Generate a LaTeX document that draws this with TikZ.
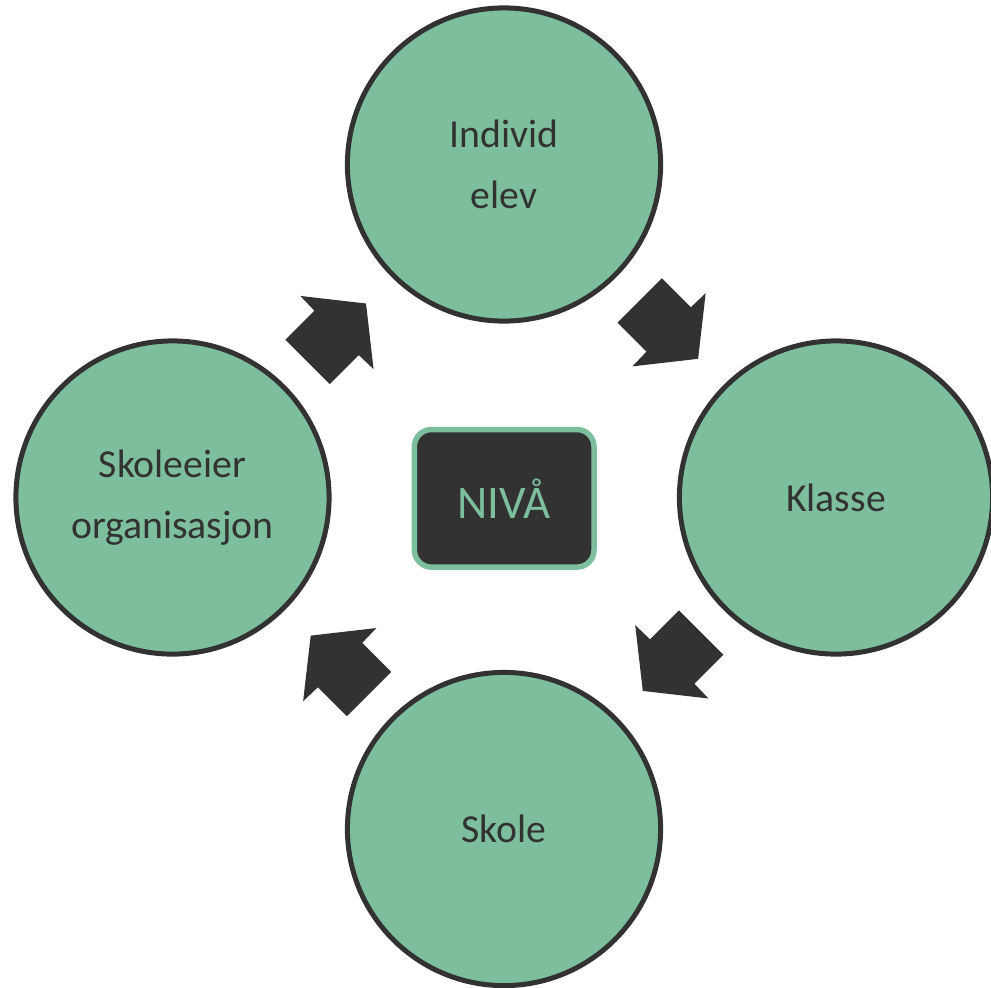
\documentclass[tikz,border=0pt]{standalone}
\usepackage{fontspec}
\setmainfont{Carlito}
\definecolor{dark}{HTML}{323232}
\definecolor{leaf}{HTML}{7DBF9D}
\tikzset{
  circ/.style={circle, draw=dark, fill=leaf, line width=1.42pt,
    minimum size=3.13cm, inner sep=0pt, text=dark, align=center,
    font=\fontsize{11.3}{17.2}\selectfont},
  centerbox/.style={rectangle, rounded corners=0.17cm, draw=leaf, fill=dark,
    line width=1.56pt, minimum width=1.795cm, minimum height=1.375cm,
    inner sep=0pt, text=leaf, text height=8.4pt, text depth=0pt,
    font=\fontsize{13.3}{16}\selectfont},
  barrow/.pic={
    \fill[dark] (0,31.4) -- (41,31.4) -- (41.5,51.8) -- (82.6,0)
      -- (41.5,-51.8) -- (41,-31.4) -- (0,-31.4) -- cycle;
  }
}
\begin{document}
\begin{tikzpicture}[x=0.01cm, y=-0.01cm]
  \useasboundingbox (0,0) rectangle (991,987);
  \node[circ] (top) at (504,164.5) {Individ\\elev};
  \node[circ] (right) at (836,497.5) {Klasse};
  \node[circ] (bottom) at (504,829) {Skole};
  \node[circ] (left) at (172.5,497.5) {Skoleeier\\organisasjon};
  \node[centerbox] (niva) at (504.2,498.3) {\raisebox{-1.5pt}{NIVÅ}};
  \pic[rotate=-45] (a1) at (639.7,300.4) {barrow};
  \pic[rotate=-135] (a2) at (701.2,632.5) {barrow};
  \pic[rotate=135] (a3) at (369.1,694) {barrow};
  \pic[rotate=45] (a4) at (307.6,361.9) {barrow};
\end{tikzpicture}
\end{document}
